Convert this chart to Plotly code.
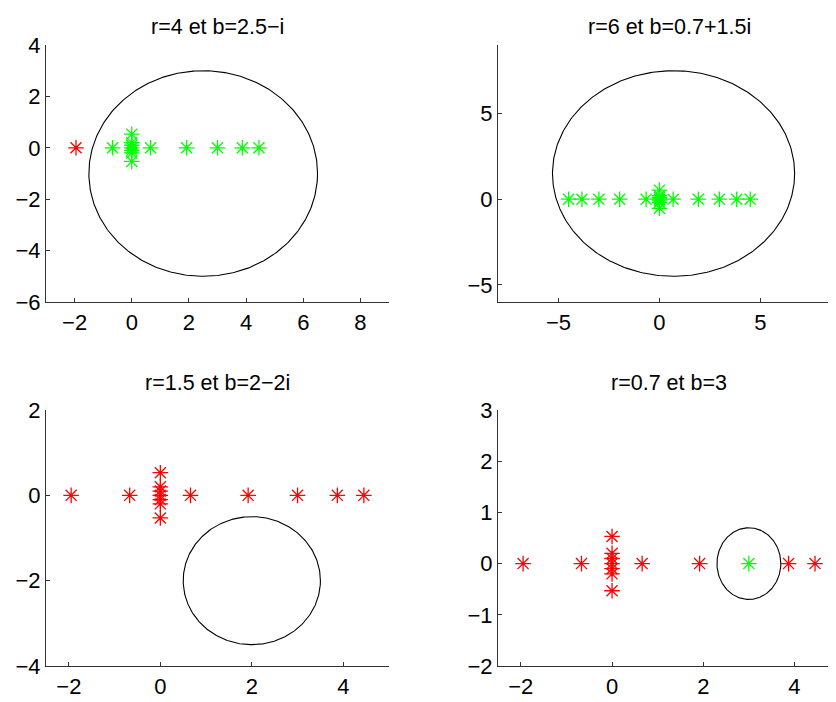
import numpy as np
import plotly.graph_objects as go

# ---- data ----
titles = ["r=4 et b=2.5\u2212i", "r=6 et b=0.7+1.5i", "r=1.5 et b=2\u22122i", "r=0.7 et b=3"]
radii = [4.0, 6.0, 1.5, 0.7]
centers_re = [2.5, 0.7, 2.0, 3.0]
centers_im = [-1.0, 1.5, -2.0, 0.0]

eig_re_a = [-1.95, -0.67, 0.66, 1.92, 3.0, 3.87, 4.45, 0, 0, 0, 0, 0, 0, 0]
eig_im_a = [0, 0, 0, 0, 0, 0, 0, 0.53, 0.2, 0.1, 0.0, -0.1, -0.2, -0.53]
eig_re_b = [-4.5, -3.84, -3.0, -1.97, -0.66, 0.68, 1.93, 2.97, 3.83, 4.5, 0, 0, 0, 0, 0, 0, 0]
eig_im_b = [0, 0, 0, 0, 0, 0, 0, 0, 0, 0, 0.53, 0.2, 0.1, 0.0, -0.1, -0.2, -0.53]
eig_sets = [(eig_re_a, eig_im_a), (eig_re_b, eig_im_b), (eig_re_a, eig_im_a), (eig_re_a, eig_im_a)]

x_ranges = [[-3, 9], [-8, 8.75], [-2.5, 5], [-2.5, 4.91]]
y_ranges = [[-6, 4], [-6, 9], [-4, 2], [-2, 3]]
x_ticks = [[-2, 0, 2, 4, 6, 8], [-5, 0, 5], [-2, 0, 2, 4], [-2, 0, 2, 4]]
y_ticks = [[-6, -4, -2, 0, 2, 4], [-5, 0, 5], [-4, -2, 0, 2], [-2, -1, 0, 1, 2, 3]]

W, H = 836, 702
OFF = 8  # page body margin offset


def px_x(v):
    return (v - OFF) / W


def px_y(v):
    return 1 - (v - OFF) / H


x_doms = [[px_x(46), px_x(389)], [px_x(498), px_x(836)], [px_x(46), px_x(389)], [px_x(498), px_x(836)]]
y_doms = [[px_y(302), px_y(45)], [px_y(302), px_y(45)],
          [px_y(666), px_y(410)], [px_y(666), px_y(410)]]
title_x = [px_x(217.5), px_x(669), px_x(217.5), px_x(669)]
title_y = [px_y(27), px_y(27), px_y(383), px_y(383)]

fig = go.Figure()
font = "Liberation Sans, Arial, Helvetica, sans-serif"
theta = np.linspace(0, 2 * np.pi, 361)

for k in range(4):
    xa = "x" if k == 0 else f"x{k+1}"
    ya = "y" if k == 0 else f"y{k+1}"
    re, im = np.array(eig_sets[k][0]), np.array(eig_sets[k][1])
    z = re + 1j * im
    b = centers_re[k] + 1j * centers_im[k]
    inside = np.abs(z - b) < radii[k]
    # circle
    fig.add_trace(go.Scatter(
        x=centers_re[k] + radii[k] * np.cos(theta),
        y=centers_im[k] + radii[k] * np.sin(theta),
        mode="lines", line=dict(color="black", width=1.1),
        xaxis=xa, yaxis=ya, showlegend=False, hoverinfo="skip"))
    for mask, col in [(~inside, "#ff0000"), (inside, "#00ff00")]:
        if mask.any():
            fig.add_trace(go.Scatter(
                x=re[mask], y=im[mask], mode="markers",
                marker=dict(symbol="asterisk-open", size=13, color=col,
                            line=dict(color=col, width=1.3)),
                xaxis=xa, yaxis=ya, showlegend=False, cliponaxis=True))
    axcommon = dict(showline=True, linecolor="#333333", linewidth=1.2, mirror=False,
                    showgrid=False, zeroline=False, ticks="inside", ticklen=4,
                    tickcolor="#333333", tickfont=dict(family=font, size=22, color="black"))
    xkey = "xaxis" if k == 0 else f"xaxis{k+1}"
    ykey = "yaxis" if k == 0 else f"yaxis{k+1}"
    fig.update_layout(**{
        xkey: dict(domain=x_doms[k], range=x_ranges[k], tickvals=x_ticks[k],
                   anchor=ya, **axcommon),
        ykey: dict(domain=y_doms[k], range=y_ranges[k], tickvals=y_ticks[k],
                   anchor=xa, **axcommon),
    })
    fig.add_annotation(text=titles[k], xref="paper", yref="paper",
                       x=title_x[k], y=title_y[k], xanchor="center", yanchor="middle",
                       showarrow=False, font=dict(family=font, size=21.5, color="black"))

fig.update_layout(width=W, height=H,
                  margin=dict(l=0, r=0, t=0, b=0, autoexpand=False),
                  paper_bgcolor="white", plot_bgcolor="white")
fig.write_html("out.html")
